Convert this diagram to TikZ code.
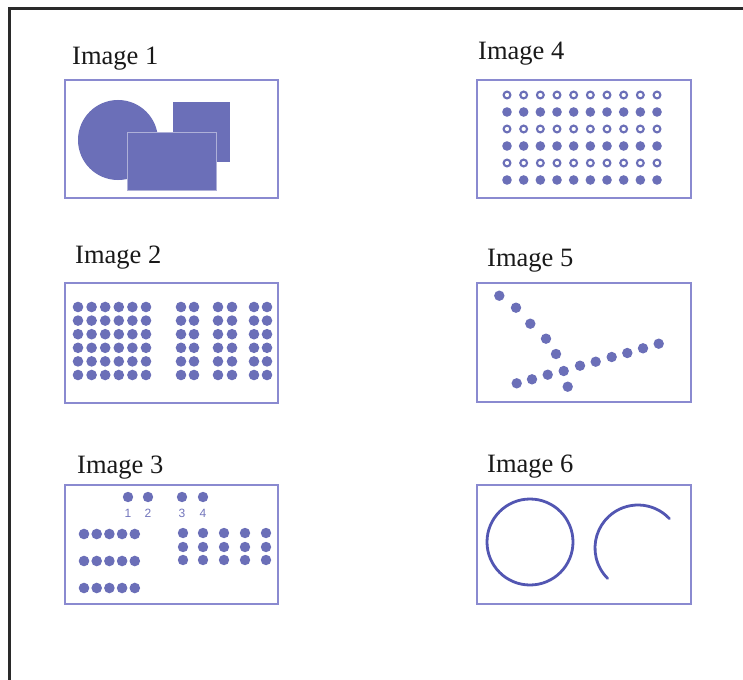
\documentclass[tikz,border=0pt]{standalone}
\usepackage{fontspec}
\setmainfont{Liberation Serif}
\newfontfamily\numfont{Liberation Sans}
\definecolor{shapecol}{HTML}{6B6FB8}
\definecolor{boxline}{HTML}{8A8AD0}
\definecolor{ringline}{HTML}{5256B2}
\definecolor{framecol}{HTML}{2A2A2A}
\definecolor{numcol}{HTML}{7275BC}
\begin{document}
\begin{tikzpicture}[x=1pt,y=-1pt,
  panel/.style={draw=boxline, line width=1.4pt},
  lbl/.style={anchor=base west, inner sep=0pt, font=\fontsize{26.5}{30}\selectfont, text=black!90},
  num/.style={inner sep=0pt, font=\numfont\fontsize{12}{13}\selectfont, text=numcol},
  ring/.style={draw=shapecol, line width=2.1pt},
  bigring/.style={draw=ringline, line width=2.8pt}
]
\useasboundingbox (0,0) rectangle (743,679);
\fill[white] (0,0) rectangle (743,679);
\draw[framecol, line width=3pt] (9,681) -- (9,9) -- (745,9);

% labels
\node[lbl] (l1) at (72,65) {Image 1};
\node[lbl] (l4) at (478,60) {Image 4};
\node[lbl] (l2) at (75,263) {Image 2};
\node[lbl] (l5) at (487,266) {Image 5};
\node[lbl] (l3) at (77,473) {Image 3};
\node[lbl] (l6) at (487,472) {Image 6};

% panels
\draw[panel] (65,80) rectangle (278,198);
\draw[panel] (477,80) rectangle (691,198);
\draw[panel] (65,283) rectangle (278,403);
\draw[panel] (477,283) rectangle (691,402);
\draw[panel] (65,485) rectangle (278,604);
\draw[panel] (477,485) rectangle (691,604);

% Image 1
\fill[shapecol] (118,140) circle[radius=40];
\fill[shapecol] (173,102) rectangle (230,162);
\filldraw[fill=shapecol, draw=shapecol!55!white, line width=0.8pt] (127,132) rectangle (216,190);

% Image 4
\foreach \i in {0,2,4}{
  \foreach \j in {0,...,9}{
    \draw[ring] ({507+16.667*\j},{95+17*\i}) circle[radius=3.4];
    \fill[shapecol] ({507+16.667*\j},{95+17*(\i+1)}) circle[radius=4.8];
  }
}

% Image 2
\foreach \i in {0,...,5}{
  \foreach \j in {0,...,5}{
    \fill[shapecol] ({78+13.6*\j},{307+13.6*\i}) circle[radius=5.3];
  }
  \foreach \x in {181,194,218,232,254,267}{
    \fill[shapecol] (\x,{307+13.6*\i}) circle[radius=5.3];
  }
}

% Image 5
\foreach \x/\y in {499.3/295.7,516/307.7,530.3/323.7,546/338.7,556/354,563.7/371,567.7/386.7,
  516.7/383.3,532/379.3,547.7/374.7,580/365.7,595.7/361.7,611.7/357,627.3/353,643/348.3,658.7/343.7}{
  \fill[shapecol] (\x,\y) circle[radius=5.2];
}

% Image 3
\foreach \x/\n in {128/1,148/2,182/3,203/4}{
  \fill[shapecol] (\x,497) circle[radius=5.2];
  \node[num] (n\n) at (\x,513) {\n};
}
\foreach \y in {534,561,588}{
  \foreach \j in {0,...,4}{
    \fill[shapecol] ({84+12.7*\j},\y) circle[radius=5.3];
  }
}
\foreach \y in {533,547,560}{
  \foreach \x in {183,203,224,245,266}{
    \fill[shapecol] (\x,\y) circle[radius=5.2];
  }
}

% Image 6
\draw[bigring] (530,542) circle[radius=43];
\draw[bigring, line cap=round] (638,548) ++(-43:43) arc[start angle=-43, end angle=-225, radius=43];
\end{tikzpicture}
\end{document}
